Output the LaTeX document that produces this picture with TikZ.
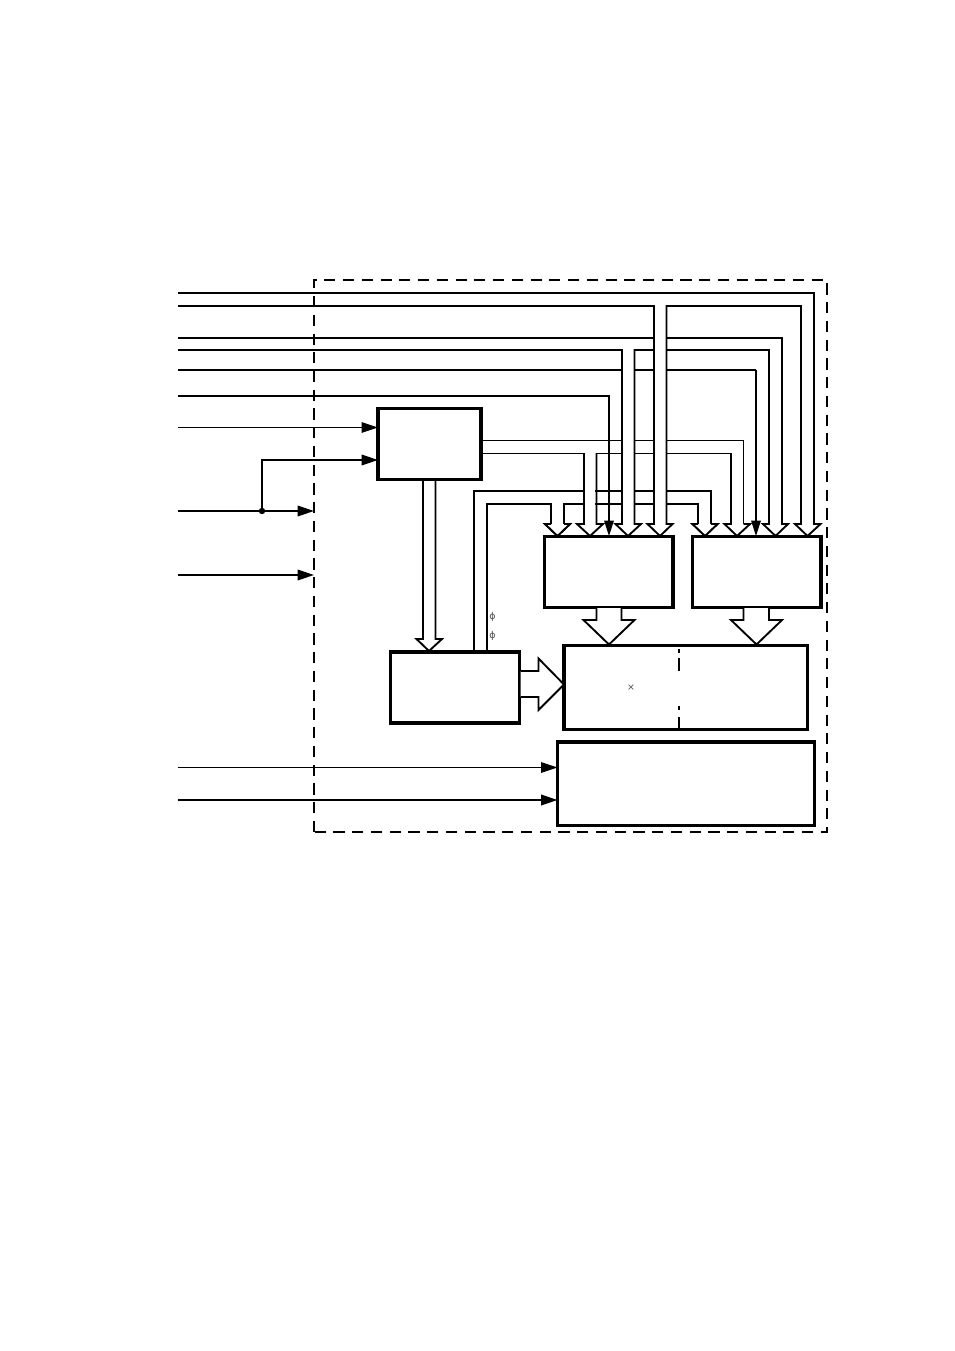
\documentclass[tikz,border=0pt]{standalone}
\usepackage{fontspec}
\newfontfamily\markfont{DejaVu Sans}
\usetikzlibrary{arrows.meta}
\tikzset{
  px/.style={x=0.3mm,y=-0.3mm},
  blockbox/.style={draw=black,line width=3.1pt,fill=white,inner sep=0pt,outer sep=0pt,anchor=north west},
  sig/.style={line width=1.6pt,line join=miter},
  thinsig/.style={line width=0.9pt},
  tip/.style={-{Triangle[length=14pt,width=9pt]}},
  bus/.style={line width=1.6pt,line join=miter},
  lightbus/.style={line width=1.1pt,line join=miter},
  cover/.style={fill=white,draw=none},
  frame/.style={line width=1.7pt,dash pattern=on 9.5pt off 6.5pt},
  tiny mark/.style={text=black!70,inner sep=0pt,font=\markfont\fontsize{8}{8}\selectfont}
}
\begin{document}
\begin{tikzpicture}[px]
\useasboundingbox[fill=white] (0,0) rectangle (954,1351);

% input ends
\foreach \n/\y in {a/293,b/306,c/338,d/350,e/370,f/396,g/427.5,h/511,i/575,j/767.5,k/800}
  \coordinate (in\n) at (178,\y);
\coordinate (dot) at (262,511);
\coordinate (fr) at (314,511);
\coordinate (fs) at (314,575);

% lowest layer: low bus loop (from converter outputs)
\draw[bus] (474,652) -- (474,491) -- (711,491) -- (711,524) -- (717.5,524) -- (705,536) -- (692.5,524) -- (698,524) -- (698,504)
  -- (564,504) -- (564,524) -- (570,524) -- (557.5,536) -- (545,524) -- (551,524) -- (551,504) -- (487,504) -- (487,652);
\fill[cover] (698.8,504.8) rectangle (710.2,524.5);
\fill[cover] (551.8,504.8) rectangle (563.2,524.5);
\fill[cover] (692,524) -- (717.5,524) -- (705,536) -- cycle;
\fill[cover] (545,524) -- (570,524) -- (557.5,536) -- cycle;
\draw[bus] (711,524) -- (717.5,524) -- (705,536) -- (692.5,524) -- (698,524);
\draw[bus] (564,524) -- (570,524) -- (557.5,536) -- (545,524) -- (551,524);

\draw[sig] (ine) -- (756,370);
\fill[cover] (584.6,453.7) rectangle (595.4,530);
\draw[lightbus] (481,440.5) -- (743.5,440.5) -- (743.5,524);
\draw[lightbus] (731,453.5) -- (596.5,453.5) (584,453.5) -- (481,453.5);
\draw[bus] (743.5,524) -- (750,524) -- (737,536) -- (724.5,524) -- (731,524) -- (731,453);
\draw[bus] (596.5,453) -- (596.5,524) -- (603,524) -- (590,536) -- (577,524) -- (584,524) -- (584,453);
\fill[cover] (622,350) rectangle (634,524.5);
\draw[sig] (inc) -- (782,338) -- (782,524) -- (788,524) -- (775.5,536) -- (763,524) -- (769,524) -- (769,350)
  -- (634.5,350) -- (634.5,524) -- (641,524) -- (628,536) -- (615.5,524) -- (622,524) -- (622,350) -- (ind);
\fill[cover] (654,306) rectangle (666,524.5);
\draw[sig] (ina) -- (814,293) -- (814,524) -- (820.5,524) -- (807.5,536) -- (795,524) -- (801,524) -- (801,306)
  -- (666.5,306) -- (666.5,524) -- (672.5,524) -- (660,536) -- (647.5,524) -- (654,524) -- (654,306) -- (inb);
\draw[sig] (756,370) -- (756,523);
\fill (756,536) -- (751,520.5) -- (761,520.5) -- cycle;
\draw[sig] (inf) -- (609,396) -- (609,523);
\fill (609,536) -- (604,520.5) -- (614,520.5) -- cycle;

% frame
\draw[frame] (314,832) -- (314,280) -- (827,280) -- (827,832) -- cycle;

% blocks
\node[blockbox,minimum width=0.3mm*103,minimum height=0.3mm*71] (ctl) at (378,408.5) {};
\node[blockbox,minimum width=0.3mm*128.5,minimum height=0.3mm*71] (lat1) at (544.5,536.5) {};
\node[blockbox,minimum width=0.3mm*128.5,minimum height=0.3mm*71] (lat2) at (692.5,536.5) {};
\node[blockbox,minimum width=0.3mm*129,minimum height=0.3mm*71] (conv) at (390.5,652) {};
\node[blockbox,minimum width=0.3mm*243.5,minimum height=0.3mm*84] (arr) at (564,645.5) {};
\node[blockbox,minimum width=0.3mm*257,minimum height=0.3mm*83.5] (out) at (557.5,742) {};

% inputs with arrows
\draw[thinsig,tip] (ing) -- (ing -| ctl.west);
\draw[sig,tip] (dot) -- (262,460) -- (ctl.west |- 0,460);
\draw[sig,tip] (inh) -- (fr);
\fill (dot) circle (3.2);
\draw[sig,tip] (ini) -- (fs);
\draw[thinsig,tip] (inj) -- (inj -| out.west);
\draw[sig,tip] (ink) -- (ink -| out.west);

% hollow buses
\draw[bus,fill=white] (423,481) -- (423,639) -- (416.5,639) -- (429,651) -- (442,639) -- (435.5,639) -- (435.5,481);
\draw[bus,fill=white] (520.5,671) -- (538.5,671) -- (538.5,658.5) -- (564,684.5) -- (538.5,710) -- (538.5,697) -- (520.5,697);
\draw[bus,fill=white] (596.5,608) -- (596.5,620) -- (583.5,620) -- (609,644.5) -- (634.5,620) -- (621.5,620) -- (621.5,608);
\draw[bus,fill=white] (743.5,608) -- (743.5,620) -- (731,620) -- (756.5,644.5) -- (782,620) -- (769,620) -- (769,608);

% divider in the array
\draw[sig] (679,649) -- (679,652.5) (679,658) -- (679,671) (679,706) -- (679,709.5) (679,717) -- (679,728);

% small marks
\node[tiny mark] (cross) at (631,688) {×};
\node[tiny mark] (ph1) at (492.5,617) {ϕ};
\node[tiny mark] (ph2) at (492.5,636) {ϕ};
\end{tikzpicture}
\end{document}
